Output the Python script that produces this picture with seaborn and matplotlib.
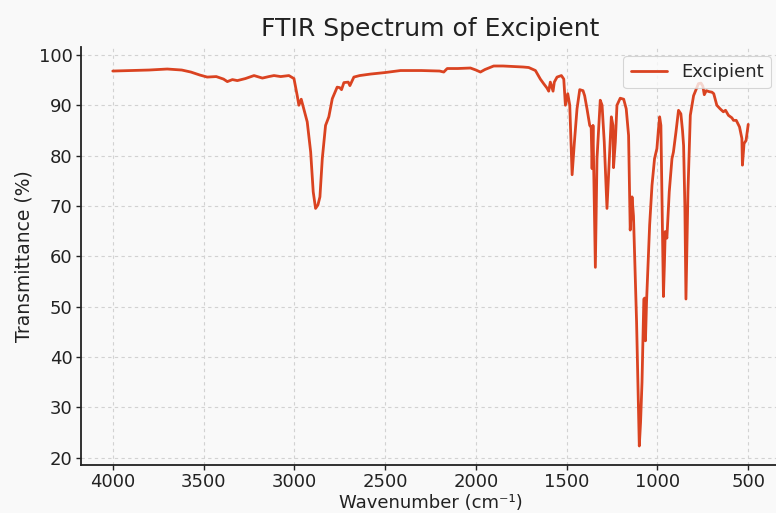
import matplotlib
matplotlib.use("Agg")
import matplotlib.pyplot as plt
import matplotlib.transforms as mtransforms
import seaborn as sns
import pandas as pd

wavenumber = [
    4000, 3900, 3800, 3700, 3620, 3570, 3520, 3480, 3430, 3390, 3369, 3341, 3314,
    3270, 3222, 3176, 3140, 3112, 3075, 3030, 3002, 2984, 2975, 2962, 2953, 2929,
    2910, 2896, 2883, 2870, 2859, 2846, 2828, 2810, 2791, 2764, 2750, 2740, 2727,
    2703, 2694, 2672, 2640, 2580, 2500, 2415, 2300, 2200, 2177, 2158, 2100, 2030,
    2000, 1975, 1950, 1902, 1850, 1792, 1740, 1709, 1672, 1645, 1627, 1608, 1599,
    1590, 1575, 1568, 1553, 1529, 1516, 1507, 1494, 1483, 1470, 1458, 1443, 1428,
    1410, 1401, 1388, 1373, 1365, 1360, 1355, 1342, 1333, 1315, 1305, 1293, 1278,
    1265, 1254, 1245, 1242, 1232, 1223, 1205, 1186, 1172, 1159, 1150, 1140, 1132,
    1115, 1100, 1093, 1085, 1075, 1070, 1066, 1060, 1050, 1043, 1030, 1016, 1003,
    995, 988, 981, 975, 967, 962, 957, 948, 935, 920, 912, 898, 884, 871, 862,
    856, 849, 843, 836, 832, 819, 801, 774, 760, 750, 742, 731, 715, 700, 690,
    673, 655, 637, 625, 609, 590, 581, 566, 548, 535, 532, 523, 512, 500,
]
transmittance = [
    96.8, 96.9, 97.0, 97.2, 97.0, 96.6, 96.0, 95.6, 95.7, 95.2, 94.7, 95.1, 94.9,
    95.3, 95.9, 95.4, 95.7, 95.9, 95.7, 95.9, 95.3, 91.9, 90.0, 91.2, 90.0, 86.7,
    80.7, 72.8, 69.5, 70.2, 71.8, 79.4, 86.0, 87.7, 91.3, 93.6, 93.5, 93.1, 94.5,
    94.6, 93.9, 95.6, 95.9, 96.2, 96.5, 96.9, 96.9, 96.8, 96.6, 97.3, 97.3, 97.4,
    97.0, 96.6, 97.1, 97.8, 97.8, 97.7, 97.6, 97.5, 96.9, 95.2, 94.3, 93.4, 92.8,
    94.6, 92.8, 94.6, 95.6, 95.9, 95.2, 90.0, 92.3, 90.0, 76.2, 82.4, 89.3, 93.1,
    92.9, 91.9, 89.3, 86.0, 85.6, 77.4, 86.0, 57.8, 79.4, 91.0, 90.0, 82.7, 69.5,
    79.4, 87.7, 86.0, 77.6, 82.7, 90.0, 91.4, 91.2, 89.3, 84.0, 65.2, 71.8, 68.0,
    47.0, 22.3, 27.0, 35.0, 51.5, 51.7, 43.2, 51.0, 60.0, 66.2, 74.1, 79.4, 81.4,
    85.0, 87.7, 86.0, 72.0, 52.0, 58.0, 64.9, 63.6, 72.8, 79.4, 80.7, 84.7, 89.0,
    88.3, 85.0, 82.0, 70.0, 51.5, 65.0, 72.8, 88.0, 91.9, 94.3, 94.4, 93.8, 92.1,
    92.9, 92.7, 92.6, 92.3, 90.0, 89.3, 88.7, 89.0, 88.0, 87.5, 87.0, 87.0, 85.7,
    83.4, 78.1, 82.4, 83.0, 86.2,
]
series_label = "Excipient"
title = "FTIR Spectrum of Excipient"
x_label = "Wavenumber (cm\u207b\u00b9)"
y_label = "Transmittance (%)"

df = pd.DataFrame({"wn": wavenumber, "T": transmittance})

sns.set_theme(style="whitegrid")
plt.rcParams["font.family"] = ["DejaVu Sans"]

bg = "#f9f9f9"
fig = plt.figure(figsize=(7.76, 5.13), dpi=100, facecolor=bg)
ax = fig.add_axes([81 / 776, 48 / 513, 699 / 776, 418 / 513])
ax.set_facecolor(bg)

sns.lineplot(data=df, x="wn", y="T", ax=ax, color="#da4321", linewidth=2.0,
             label=series_label, estimator=None)

ax.invert_xaxis()
ax.set_xticks([4000, 3500, 3000, 2500, 2000, 1500, 1000, 500])
ax.set_yticks([20, 30, 40, 50, 60, 70, 80, 90, 100])
ax.grid(True, linestyle=(0, (3, 3)), color="#d2d2d2", linewidth=0.8)
for s in ["top", "right"]:
    ax.spines[s].set_visible(False)
for s in ["left", "bottom"]:
    ax.spines[s].set_color("#222222")
    ax.spines[s].set_linewidth(1.3)
ax.tick_params(axis="both", which="major", direction="out", length=3.5, width=1.0,
               color="#222222", labelsize=13, labelcolor="#222222", pad=2.5,
               bottom=True, left=True)

ax.set_title(title, fontsize=18, color="#222222", pad=8)
ax.set_xlabel(x_label, fontsize=13, color="#222222")
ax.set_ylabel(y_label, fontsize=13.5, color="#222222", labelpad=4)
trans = mtransforms.blended_transform_factory(ax.transAxes, fig.transFigure)
ax.xaxis.set_label_coords(0.5, 1.5 / 513, transform=trans)
ax.xaxis.label.set_verticalalignment("bottom")

leg = ax.legend(loc="upper right", fontsize=13, frameon=True, fancybox=True,
                handlelength=2.0, borderaxespad=0.5)
leg.get_frame().set_edgecolor("#cccccc")
leg.get_frame().set_facecolor("#fbfbfb")
leg.get_frame().set_linewidth(0.8)

fig.savefig("out.png", dpi=100, facecolor=bg)
